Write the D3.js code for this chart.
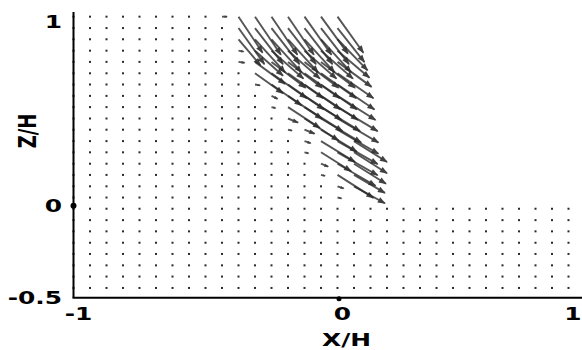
<!DOCTYPE html>
<html>
<head>
<meta charset="utf-8">
<script src="https://cdn.jsdelivr.net/npm/d3@7"></script>
<style>
  html, body { margin: 0; padding: 0; background: #fff; }
  svg { display: block; }
  text { font-family: "DejaVu Sans", Verdana, sans-serif; font-weight: bold; font-size: 18px; fill: #000; }
</style>
</head>
<body>
<div id="chart"></div>
<script>
// Grid columns (x/H) and rows (z/H) of the velocity field
const xCols = [-1, -0.9375, -0.875, -0.8125, -0.75, -0.6875, -0.625, -0.5625, -0.5, -0.4375,
    -0.375, -0.3125, -0.25, -0.1875, -0.125, -0.0625, 0, 0.0625, 0.125, 0.1875, 0.25,
    0.3125, 0.375, 0.4375, 0.5, 0.5625, 0.625, 0.6875, 0.75, 0.8125, 0.875];
const zRows = [1.029, 0.967, 0.906, 0.844, 0.783, 0.721, 0.660, 0.598, 0.537, 0.475,
    0.414, 0.352, 0.291, 0.229, 0.168, 0.106, 0.045, -0.016, -0.078, -0.139, -0.201,
    -0.262, -0.324, -0.385, -0.447];

// last grid column of each row (the region above the step stops at x = 0)
const rowLastCol = [16, 16, 16, 16, 16, 16, 16, 16, 16, 16, 16, 16, 16, 16, 16, 16, 16,
    30, 30, 30, 30, 30, 30, 30, 30];

// jet vectors (displacement in x/H, z/H), per row starting at column jetStart[r]
const jetStart = [9, 10, 10, 10, 10, 11, 11, 12, 12, 13, 13, 14, 14, 15, 15, 16, 16];
const jetU = [
    [0.019, 0.091, 0.098, 0.098, 0.098, 0.102, 0.102, 0.098],
    [0.098, 0.106, 0.106, 0.106, 0.106, 0.106, 0.102],
    [0.083, 0.114, 0.114, 0.114, 0.114, 0.114, 0.114],
    [0.019, 0.106, 0.121, 0.121, 0.121, 0.121, 0.121],
    [0.023, 0.114, 0.129, 0.129, 0.129, 0.129, 0.129],
    [0.106, 0.133, 0.133, 0.133, 0.133, 0.136],
    [0.019, 0.114, 0.136, 0.136, 0.136, 0.140],
    [0.023, 0.129, 0.140, 0.140, 0.144],
    [0.015, 0.121, 0.144, 0.148, 0.152],
    [0.038, 0.129, 0.152, 0.155],
    [0.015, 0.038, 0.136, 0.155],
    [0.023, 0.129, 0.152, 0.125],
    [0.015, 0.114, 0.152, 0.125],
    [0.027, 0.144, 0.121],
    [0.015, 0.136, 0.117],
    [0.023, 0.117],
    [0.015]
];
const jetW = [
    [0, -0.196, -0.207, -0.207, -0.207, -0.207, -0.201, -0.196],
    [-0.196, -0.196, -0.196, -0.196, -0.196, -0.196, -0.185],
    [-0.141, -0.180, -0.180, -0.180, -0.180, -0.180, -0.169],
    [-0.005, -0.136, -0.152, -0.152, -0.152, -0.152, -0.147],
    [-0.005, -0.120, -0.141, -0.141, -0.141, -0.141, -0.136],
    [-0.109, -0.136, -0.136, -0.136, -0.136, -0.136],
    [-0.005, -0.114, -0.136, -0.136, -0.136, -0.136],
    [-0.016, -0.125, -0.131, -0.131, -0.131],
    [-0.005, -0.114, -0.131, -0.131, -0.131],
    [-0.022, -0.120, -0.131, -0.131],
    [-0.005, -0.022, -0.120, -0.131],
    [-0.011, -0.114, -0.125, -0.114],
    [-0.005, -0.103, -0.125, -0.114],
    [-0.016, -0.120, -0.109],
    [-0.005, -0.125, -0.098],
    [-0.011, -0.092],
    [-0.005]
];

const xTicks = [-1, 0, 1];
const zTicks = [-0.5, 0, 1];

const width = 582, height = 350;
const svg = d3.select("#chart")
    .append("svg")
    .attr("width", width)
    .attr("height", height);

const x = d3.scaleLinear().domain([-1, 1]).range([73.5, 601.5]);
const z = d3.scaleLinear().domain([-0.5, 1]).range([297.7, 22]);
const zTop = 1.055;

// build the field
const field = [];
zRows.forEach((zv, r) => {
    const vec = {};
    if (r < jetStart.length) {
        jetU[r].forEach((u, i) => { vec[jetStart[r] + i] = [u, jetW[r][i]]; });
    }
    const last = Math.max(rowLastCol[r], ...Object.keys(vec).map(Number));
    for (let k = 0; k <= last; k++) {
        const v = vec[k] || [0, 0];
        field.push({ x: xCols[k], z: zv, u: v[0], w: v[1] });
    }
});

field.forEach(d => {
    d.x0 = x(d.x); d.y0 = z(d.z);
    d.x1 = x(d.x + d.u); d.y1 = z(d.z + d.w);
    d.len = Math.hypot(d.x1 - d.x0, d.y1 - d.y0);
});

// dots for still points
svg.append("g")
    .selectAll("rect")
    .data(field.filter(d => d.len < 3))
    .enter()
    .append("rect")
    .attr("x", d => d.x0 - 1)
    .attr("y", d => d.y0 - 1)
    .attr("width", 2)
    .attr("height", 2)
    .attr("fill", "#2a2a2a");

// arrows
const arrows = svg.append("g")
    .selectAll("g")
    .data(field.filter(d => d.len >= 3))
    .enter()
    .append("g")
    .attr("opacity", 0.8);

arrows.append("line")
    .attr("x1", d => d.x0)
    .attr("y1", d => d.y0)
    .attr("x2", d => d.x1)
    .attr("y2", d => d.y1)
    .attr("stroke", "#2b2b2b")
    .attr("stroke-width", 1.9);

arrows.append("path")
    .attr("d", d => {
        const ux = (d.x1 - d.x0) / d.len, uy = (d.y1 - d.y0) / d.len;
        const h = Math.min(7, d.len * 0.5), w = h * 0.42;
        const bx = d.x1 - ux * h, by = d.y1 - uy * h;
        return `M${d.x1 + ux},${d.y1 + uy}L${bx - uy * w},${by + ux * w}L${bx + uy * w},${by - ux * w}Z`;
    })
    .attr("fill", "#111");

// axes
svg.append("line")
    .attr("x1", x(-1)).attr("x2", x(-1))
    .attr("y1", z(zTop)).attr("y2", z(-0.5))
    .attr("stroke", "#000").attr("stroke-width", 2);
svg.append("line")
    .attr("x1", x(-1) - 1).attr("x2", width)
    .attr("y1", z(-0.5)).attr("y2", z(-0.5))
    .attr("stroke", "#000").attr("stroke-width", 2);

svg.append("circle").attr("cx", x(-1)).attr("cy", z(0)).attr("r", 3).attr("fill", "#000");
svg.append("circle").attr("cx", x(0) + 1.5).attr("cy", z(-0.5) + 1).attr("r", 2.5).attr("fill", "#000");

const sx = 1.38;
svg.append("g")
    .selectAll("text")
    .data(zTicks)
    .enter()
    .append("text")
    .attr("transform", d => `translate(62,${z(d)}) scale(${sx},1)`)
    .attr("text-anchor", "end")
    .attr("dy", "0.36em")
    .text(d => d);

svg.append("g")
    .selectAll("text")
    .data(xTicks)
    .enter()
    .append("text")
    .attr("transform", d => `translate(${Math.min(x(d) + 5, 573)},314) scale(${sx},1)`)
    .attr("text-anchor", "middle")
    .attr("dy", "0.36em")
    .text(d => d);

svg.append("text")
    .attr("transform", `translate(${x(0) + 9},339.5) scale(${sx},1)`)
    .attr("text-anchor", "middle")
    .attr("dy", "0.36em")
    .text("X/H");

svg.append("text")
    .attr("transform", `translate(27,131) scale(${sx},1) rotate(-90)`)
    .attr("text-anchor", "middle")
    .attr("dy", "0.36em")
    .text("Z/H");
</script>
</body>
</html>
